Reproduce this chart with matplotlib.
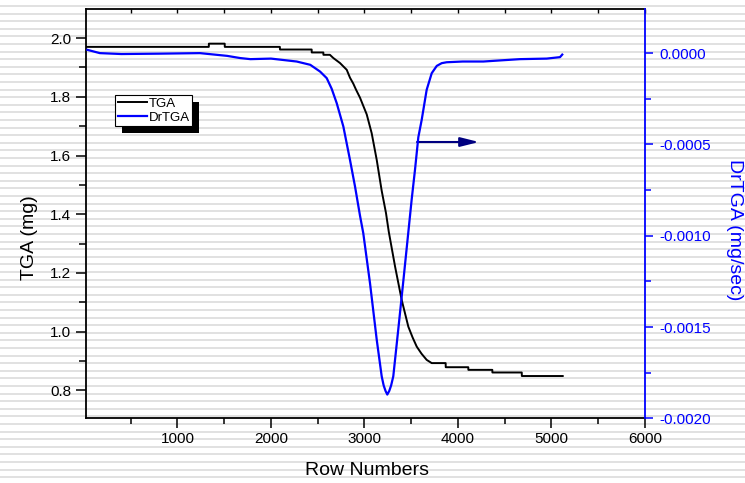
import numpy as np
import matplotlib
matplotlib.use("Agg")
import matplotlib.pyplot as plt
from matplotlib.ticker import FixedLocator, MultipleLocator, FuncFormatter
from matplotlib.patches import Rectangle
from matplotlib.transforms import IdentityTransform

plt.rcParams['font.family'] = ['Liberation Sans', 'DejaVu Sans']
plt.rcParams['axes.unicode_minus'] = False

# ---------------- data ----------------
tga_x = [30, 1335, 1336, 1505, 1506, 2095, 2096, 2435, 2436, 2560, 2561, 2630,
         2667, 2738, 2810, 2845, 2880, 2910, 2952, 3024, 3077, 3131, 3184, 3230,
         3260, 3327, 3398, 3469, 3515, 3559, 3610, 3665, 3719, 3868, 3869, 4110,
         4111, 4367, 4368, 4682, 4683, 5120]
tga_y = [1.970, 1.970, 1.981, 1.981, 1.970, 1.970, 1.961, 1.961, 1.951, 1.951, 1.943, 1.943,
         1.932, 1.915, 1.892, 1.865, 1.845, 1.824, 1.797, 1.740, 1.676, 1.585, 1.480, 1.404,
         1.340, 1.222, 1.108, 1.017, 0.980, 0.949, 0.925, 0.904, 0.893, 0.893, 0.879, 0.879,
         0.870, 0.870, 0.861, 0.861, 0.849, 0.849]

dr_x = [36, 170, 400, 800, 1240, 1530, 1670, 1780, 2000, 2275, 2420, 2525, 2596,
        2649, 2703, 2774, 2845, 2899, 2952, 2987, 3059, 3131, 3184, 3205, 3225, 3244,
        3265, 3285, 3308, 3362, 3415, 3469, 3505, 3540, 3576, 3612, 3665, 3719, 3773,
        3826, 3879, 4050, 4271, 4449, 4663, 4949, 5091, 5115]
dr_y = [0.000018, 0.0, -0.000005, -0.000003, 0.0, -0.000015, -0.000027, -0.000033,
        -0.000030, -0.000046, -0.000064, -0.000101, -0.000137, -0.000195, -0.000274,
        -0.000402, -0.000585, -0.000731, -0.000890, -0.000986, -0.00126, -0.00157,
        -0.00177, -0.00182, -0.00185, -0.00187, -0.00185, -0.00182, -0.00177, -0.00151,
        -0.00125, -0.00098, -0.00080, -0.00064, -0.00046, -0.000365, -0.000201,
        -0.00011, -0.00007, -0.000055, -0.00005, -0.000046, -0.000046, -0.00004,
        -0.000033, -0.000030, -0.000022, -0.000008]

x_ticks = [1000, 2000, 3000, 4000, 5000, 6000]
tga_ticks = [0.8, 1.0, 1.2, 1.4, 1.6, 1.8, 2.0]
dr_ticks = [-0.0020, -0.0015, -0.0010, -0.0005, 0.0000]

arrow_x0, arrow_x1, arrow_y = 3562, 4225, 1.646

BLUE = '#0000FF'
NAVY = '#000080'

# ---------------- figure ----------------
fig = plt.figure(figsize=(7.45, 4.83), dpi=100, facecolor='white')

# striped background
bg = fig.add_axes([0, 0, 1, 1], zorder=-10)
bg.set_xlim(0, 1)
bg.set_ylim(483, 0)
bg.axis('off')
for yy in np.arange(6.0, 483, 7.6):
    bg.axhline(yy, color='#d9d9d9', lw=1.1)

L, R, T, B = 86.4 / 745, 645 / 745, 1 - 9.3 / 483, 1 - 418.3 / 483
ax = fig.add_axes([L, B, R - L, T - B])
ax.patch.set_visible(False)
ax2 = ax.twinx()
ax2.patch.set_visible(False)

ax.plot(tga_x, tga_y, color='black', lw=1.4, label='TGA', zorder=3)
l2, = ax2.plot(dr_x, dr_y, color=BLUE, lw=1.6, label='DrTGA', zorder=3)

ax.set_xlim(26, 6000)
ax.set_ylim(0.705, 2.098)
ax2.set_ylim(-0.002, 0.00024)

# spines
for s in ['left', 'top', 'bottom']:
    ax.spines[s].set_linewidth(1.3)
    ax.spines[s].set_color('black')
ax.spines['right'].set_visible(False)
for s in ['left', 'top', 'bottom']:
    ax2.spines[s].set_visible(False)
ax2.spines['right'].set_color(BLUE)
ax2.spines['right'].set_linewidth(1.3)

# x ticks
ax.xaxis.set_major_locator(FixedLocator(x_ticks))
ax.xaxis.set_minor_locator(MultipleLocator(500))
ax.tick_params(axis='x', which='major', direction='out', length=7, width=1.1,
               labelsize=11, pad=3, top=False)
ax.tick_params(axis='x', which='minor', direction='out', length=4, width=1.1, top=False)
top = ax.secondary_xaxis('top')
top.xaxis.set_major_locator(MultipleLocator(500))
top.tick_params(axis='x', direction='in', length=3, width=1.0, labeltop=False)
top.spines['top'].set_visible(False)

# left y ticks
ax.yaxis.set_major_locator(FixedLocator(tga_ticks))
ax.yaxis.set_minor_locator(MultipleLocator(0.1))
ax.yaxis.set_major_formatter(FuncFormatter(lambda v, p: f"{v:.1f}"))
ax.tick_params(axis='y', which='major', direction='out', length=7, width=1.1,
               labelsize=11, pad=4)
ax.tick_params(axis='y', which='minor', direction='out', length=5, width=1.1)

# right y ticks
ax2.yaxis.set_major_locator(FixedLocator(dr_ticks))
ax2.yaxis.set_minor_locator(MultipleLocator(0.00025))
ax2.yaxis.set_major_formatter(FuncFormatter(lambda v, p: f"{v:.4f}".replace('-0.0000', '0.0000')))
ax2.tick_params(axis='y', which='major', direction='out', length=6, width=1.1,
                labelsize=11, pad=4, colors=BLUE)
ax2.tick_params(axis='y', which='minor', direction='out', length=4, width=1.1, colors=BLUE)

# labels
ax.set_xlabel('Row Numbers', fontsize=14, va='center')
ax.xaxis.set_label_coords(0.502, -0.128)
ax.set_ylabel('TGA (mg)', fontsize=14, va='center')
ax.yaxis.set_label_coords(-0.101, 0.441)
ax2.set_ylabel('DrTGA (mg/sec)', fontsize=14, color=BLUE, rotation=270,
               va='center', ha='center')
ax2.yaxis.set_label_coords(1.161, 0.462)

# arrow
ax.annotate('', xy=(arrow_x1, arrow_y), xytext=(arrow_x0, arrow_y),
            arrowprops=dict(arrowstyle='-|>,head_length=0.8,head_width=0.2',
                            color=NAVY, lw=1.5, mutation_scale=14,
                            shrinkA=0, shrinkB=0), zorder=4)

# legend
h1, lab1 = ax.get_legend_handles_labels()
leg = ax2.legend(h1 + [l2], lab1 + ['DrTGA'], loc='upper left',
                 bbox_to_anchor=(115 / 745, 1 - 95 / 483), bbox_transform=fig.transFigure,
                 borderaxespad=0, fontsize=9.5, handlelength=2.2, handletextpad=0.15,
                 borderpad=0.2, labelspacing=0.12, fancybox=False, shadow=False,
                 framealpha=1, edgecolor='black')
leg.get_frame().set_linewidth(0.8)
leg.set_zorder(5)

fig.canvas.draw()
bb = leg.get_window_extent()
shadow = Rectangle((bb.x0 + 6.5, bb.y0 - 6.5), bb.width, bb.height,
                   transform=IdentityTransform(), facecolor='black',
                   edgecolor='none', zorder=4.9, clip_on=False)
ax2.add_artist(shadow)

fig.savefig('out.png', dpi=100, facecolor='white')
